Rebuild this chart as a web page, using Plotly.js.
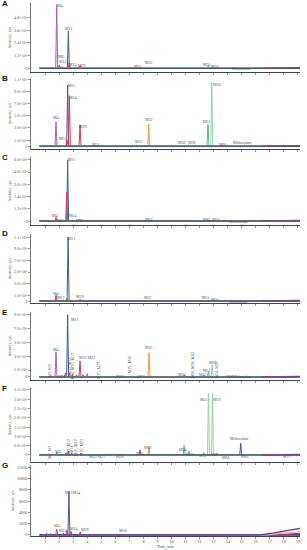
<!DOCTYPE html>
<html><head><meta charset="utf-8">
<script src="https://cdn.plot.ly/plotly-3.0.1.min.js"></script>
<style>html,body{margin:0;padding:0;background:#fff;}#chart{width:307px;height:550px;}</style>
</head><body><div id="chart"></div>
<script>
// ---------- shared ----------
const timeTicks = [1,2,3,4,5,6,7,8,9,10,11,12,13,14,15,16,17,18,19];
const panelLetters = ['A','B','C','D','E','F','G'];

// ---------- Panel A ----------
const A_time   = [1.83, 2.02, 2.20, 2.66, 2.72, 3.50, 7.76, 8.40, 12.63, 12.90];
const A_height = [6.0e5, 0.3e5, 0.15e5, 3.5e5, 0.5e5, 0.25e5, 0.1e5, 0.15e5, 0.3e5, 0.15e5];
const A_chan   = ['c1','c7','c3','c2','c3','c3','c7','c4','c5','c6'];
const A_labels = ['M4','M11','M8','M12','M14','M29','M31','M32','M51','M56','Midazolam'];
const A_labelTime  = [2.09, 2.66, 2.10, 2.28, 2.99, 3.63, 7.62, 8.43, 12.51, 13.10, 15.00];
const A_labelValue = [5.9e5, 3.8e5, 1.12e5, 0.66e5, 0.4e5, 0.31e5, 0.15e5, 0.57e5, 0.4e5, 0.19e5, -0.02e5];
const A_driftTime  = [16.5, 19.15];
const A_driftValue = [0, 0.05e5];
const A_yTicks = [0, 1.2e5, 2.4e5, 3.6e5, 4.8e5];
const A_yText  = ['0','1.2×10⁵','2.4×10⁵','3.6×10⁵','4.8×10⁵'];

// ---------- Panel B ----------
const B_time   = [1.78, 2.55, 2.61, 2.73, 3.49, 4.80, 7.76, 8.38, 10.90, 11.30, 12.60, 12.87, 13.46, 14.90];
const B_height = [4.0e5, 1.0e5, 10.0e5, 8.3e5, 3.5e5, 0.15e5, 0.2e5, 3.6e5, 0.15e5, 0.1e5, 3.6e5, 10.4e5, 0.1e5, 0.15e5];
const B_chan   = ['c1','c3','c2','c3','c3','c7','c7','c4','c5','c5','c5','c6','c7','c7'];
const B_labels = ['M4','M12','M11','M14','M29','M25','M31','M32','M36','M38','M51','M56','M60','Midazolam'];
const B_labelTime  = [1.78, 2.26, 2.90, 3.01, 3.68, 4.63, 7.71, 8.43, 10.78, 11.49, 12.51, 13.23, 13.70, 15.08];
const B_labelValue = [4.7e5, 1.2e5, 9.9e5, 8.0e5, 3.3e5, 0.36e5, 0.74e5, 4.4e5, 0.57e5, 0.57e5, 4.1e5, 10.2e5, 0.3e5, 0.57e5];
const B_driftTime  = [16.5, 19.15];
const B_driftValue = [0, 0.08e5];
const B_yTicks = [0, 1e5, 3e5, 5e5, 7e5, 9e5, 11e5];
const B_yText  = ['0','1.0×10⁵','3.0×10⁵','5.0×10⁵','7.0×10⁵','9.0×10⁵','1.1×10⁶'];

// ---------- Panel C ----------
const C_time   = [1.78, 2.20, 2.54, 2.61, 3.49, 8.40, 12.58, 12.80];
const C_height = [0.35e5, 0.1e5, 2.8e5, 6.0e5, 0.15e5, 0.15e5, 0.15e5, 0.1e5];
const C_chan   = ['c3','c3','c3','c2','c3','c4','c5','c5'];
const C_labels = ['M4','M12','M11','M14','M29','M32','M51','M56','Midazolam'];
const C_labelTime  = [1.71, 2.14, 2.90, 3.01, 3.49, 8.43, 12.51, 13.18, 14.76];
const C_labelValue = [0.5e5, 0.08e5, 6.0e5, 0.5e5, 0.05e5, 0.17e5, 0.17e5, 0.17e5, -0.02e5];
const C_driftTime  = [16.5, 19.15];
const C_driftValue = [0, 0.06e5];
const C_yTicks = [0, 1.2e5, 2.4e5, 3.6e5, 4.8e5, 6.0e5];
const C_yText  = ['0','1.2×10⁵','2.4×10⁵','3.6×10⁵','4.8×10⁵','6.0×10⁵'];

// ---------- Panel D ----------
const D_time   = [1.78, 2.30, 2.55, 2.64, 3.49, 8.40, 12.60, 12.90];
const D_height = [1.0e5, 0.2e5, 0.4e5, 11.0e5, 0.3e5, 0.2e5, 0.2e5, 0.15e5];
const D_chan   = ['c3','c3','c3','c2','c3','c4','c5','c5'];
const D_labels = ['M4','M12','M11','M29','M32','M51','M56','Midazolam'];
const D_labelTime  = [1.78, 2.12, 2.90, 3.49, 8.31, 12.46, 13.10, 14.76];
const D_labelValue = [1.33e5, 0.57e5, 10.8e5, 0.81e5, 0.64e5, 0.64e5, 0.34e5, -0.02e5];
const D_driftTime  = [16.5, 19.15];
const D_driftValue = [0, 0.1e5];
const D_yTicks = [0, 1e5, 3e5, 5e5, 7e5, 9e5, 11e5];
const D_yText  = ['0','1.0×10⁵','3.0×10⁵','5.0×10⁵','7.0×10⁵','9.0×10⁵','1.1×10⁶'];

// ---------- Panel E ----------
const E_time   = [1.45, 1.78, 2.19, 2.45, 2.61, 2.75, 2.95, 3.25, 3.49, 3.70, 4.01, 4.80, 6.34, 7.05, 7.76, 8.40, 10.90, 11.50, 12.30, 12.63, 12.90, 13.27, 14.17, 14.90];
const E_height = [0.15e5, 3.6e5, 0.2e5, 0.6e5, 8.9e5, 0.5e5, 0.4e5, 0.3e5, 2.3e5, 0.3e5, 0.45e5, 0.1e5, 0.05e5, 0.1e5, 0.1e5, 3.5e5, 0.3e5, 0.2e5, 0.3e5, 0.8e5, 1.75e5, 0.2e5, 0.05e5, 0.1e5];
const E_chan   = ['c1','c1','c3','c3','c2','c3','c3','c3','c3','c3','c3','c7','c7','c7','c7','c4','c5','c5','c5','c5','c6','c5','c7','c7'];
const E_labels = ['M4','M11','M19 M23','M32','M56','M51','M52','M34','M10','M28','M31','M60','Midazolam'];
const E_labelTime  = [1.78, 3.13, 3.97, 8.43, 12.98, 12.56, 12.23, 10.73, 2.19, 6.34, 7.88, 14.15, 15.03];
const E_labelValue = [3.96e5, 8.2e5, 2.8e5, 4.2e5, 2.1e5, 1.0e5, 0.29e5, 0.29e5, 0.02e5, 0.0, 0.05e5, 0.05e5, 0.02e5];
const E_vLabels = ['M2, M3','M12, M13','M14, M16, M17','M25, M27','M29, M30','M36, M38, M42','M54, M55'];
const E_vLabelTime  = [1.35, 2.71, 2.92, 4.79, 7.05, 11.52, 13.27];
const E_vLabelValue = [0.95e5, 1.5e5, 1.5e5, 0.9e5, 1.7e5, 1.75e5, 1.0e5];
const E_driftTime  = [16.5, 19.15];
const E_driftValue = [0, 0.06e5];
const E_yTicks = [0, 1e5, 3e5, 5e5, 7e5, 9e5];
const E_yText  = ['0','1.0×10⁵','3.0×10⁵','5.0×10⁵','7.0×10⁵','9.0×10⁵'];

// ---------- Panel F ----------
const F_time   = [1.35, 1.83, 2.50, 2.66, 2.90, 3.20, 3.55, 4.70, 6.34, 7.76, 8.40, 10.90, 11.25, 12.30, 12.63, 12.92, 13.20, 13.70, 14.93, 15.20, 18.20];
const F_height = [0.05e6, 0.15e6, 0.12e6, 0.2e6, 0.1e6, 0.08e6, 0.1e6, 0.03e6, 0.03e6, 0.27e6, 0.45e6, 0.5e6, 0.2e6, 0.12e6, 3.3e6, 3.3e6, 0.1e6, 0.03e6, 0.63e6, 0.03e6, 0.03e6];
const F_chan   = ['c1','c1','c3','c3','c3','c3','c3','c7','c7','c3','c4','c5','c5','c5','c6','c6','c5','c7','c2','c7','c7'];
const F_labels = ['M51','M56','Midazolam','M32','M31','M34','M36','M52','M55','M60','M66','M71','M4','M25 M27','M28'];
const F_labelTime  = [12.32, 13.27, 14.84, 8.35, 7.76, 10.80, 11.32, 12.22, 13.12, 13.90, 15.24, 18.21, 1.92, 4.68, 6.34];
const F_labelValue = [2.96e6, 2.96e6, 0.9e6, 0.39e6, 0.09e6, 0.27e6, 0.05e6, -0.05e6, 0.02e6, -0.12e6, -0.1e6, -0.1e6, 0.18e6, -0.1e6, -0.08e6];
const F_vLabels = ['M2, M3','M11, M12','M14','M16, M17','M19, M23'];
const F_vLabelTime  = [1.35, 2.66, 2.90, 3.20, 3.60];
const F_vLabelValue = [0.15e6, 0.4e6, 0.3e6, 0.4e6, 0.4e6];
const F_driftTime  = [16.5, 19.15];
const F_driftValue = [0, 0.03e6];
const F_yTicks = [0, 0.5e6, 1.0e6, 1.5e6, 2.0e6, 2.5e6, 3.0e6, 3.5e6];
const F_yText  = ['0','5.0×10⁵','1.0×10⁶','1.5×10⁶','2.0×10⁶','2.5×10⁶','3.0×10⁶','3.5×10⁶'];

// ---------- Panel G ----------
const G_time   = [1.10, 1.40, 1.83, 2.30, 2.55, 2.70, 2.85, 3.50, 6.50];
const G_height = [300, 250, 1000, 300, 800, 7700, 600, 500, 100];
const G_chan   = ['c3','c3','c3','c3','c3','c2','c3','c3','c7'];
const G_labels = ['M11M14','M4','M12','M14','M29','M28'];
const G_labelTime  = [2.97, 1.83, 2.30, 3.06, 3.85, 6.57];
const G_labelValue = [7600, 1750, 750, 1220, 925, 750];
const G_drift1Time  = [0.8, 16.3, 17.3, 18.3, 19.15];
const G_drift1Value = [0, 0, 350, 850, 1150];
const G_drift2Time  = [0.8, 16.8, 18.0, 19.15];
const G_drift2Value = [0, 0, 300, 550];
const G_drift3Time  = [0.8, 17.5, 19.15];
const G_drift3Value = [0, 0, 250];
const G_yTicks = [0, 2000, 4000, 6000, 8000, 10000, 12000];
const G_yText  = ['0','2000','4000','6000','8000','10000','12000'];

// ---------- layout geometry (pixels) ----------
const PLOT_TOP = 2, PLOT_BOTTOM = 536, PLOT_H = PLOT_BOTTOM - PLOT_TOP;
const panelTopPx    = [3, 78, 157, 234, 312, 388, 465];
const panelBottomPx = [72, 149, 225, 303, 380, 462, 536];
const yRanges = [[-0.35e5, 6.16e5],[-0.46e5, 11.2e5],[-0.39e5, 6.27e5],[-0.34e5, 11.55e5],[-0.43e5, 9.3e5],[-0.38e6, 3.6e6],[-200, 12400]];
const X_MIN = 0, X_MAX = 19.15, X0 = 0.6;
const W = 0.07;

const chanColor = {c1:'#b05caf', c2:'#4456a8', c3:'#d8365a', c4:'#f29a38', c5:'#5cbd82', c6:'#8fd8aa', c7:'#4a4f9a'};
const chanOrder = ['c7','c1','c2','c3','c4','c5','c6'];
const NAVY = '#2e3584';
const FONT = 'Liberation Serif, serif';

const panels = [
  {t:A_time,h:A_height,c:A_chan,l:A_labels,lt:A_labelTime,lv:A_labelValue,dt:A_driftTime,dv:A_driftValue,yt:A_yTicks,yx:A_yText},
  {t:B_time,h:B_height,c:B_chan,l:B_labels,lt:B_labelTime,lv:B_labelValue,dt:B_driftTime,dv:B_driftValue,yt:B_yTicks,yx:B_yText},
  {t:C_time,h:C_height,c:C_chan,l:C_labels,lt:C_labelTime,lv:C_labelValue,dt:C_driftTime,dv:C_driftValue,yt:C_yTicks,yx:C_yText},
  {t:D_time,h:D_height,c:D_chan,l:D_labels,lt:D_labelTime,lv:D_labelValue,dt:D_driftTime,dv:D_driftValue,yt:D_yTicks,yx:D_yText},
  {t:E_time,h:E_height,c:E_chan,l:E_labels,lt:E_labelTime,lv:E_labelValue,dt:E_driftTime,dv:E_driftValue,yt:E_yTicks,yx:E_yText,vl:E_vLabels,vt:E_vLabelTime,vv:E_vLabelValue},
  {t:F_time,h:F_height,c:F_chan,l:F_labels,lt:F_labelTime,lv:F_labelValue,dt:F_driftTime,dv:F_driftValue,yt:F_yTicks,yx:F_yText,vl:F_vLabels,vt:F_vLabelTime,vv:F_vLabelValue},
  {t:G_time,h:G_height,c:G_chan,l:G_labels,lt:G_labelTime,lv:G_labelValue,yt:G_yTicks,yx:G_yText}
];

const traces = [], annotations = [];
const layout = {
  width:307, height:550, margin:{l:31, r:7, t:PLOT_TOP, b:550-PLOT_BOTTOM},
  paper_bgcolor:'#fff', plot_bgcolor:'#fff', showlegend:false,
  font:{family:FONT, color:'#555', size:4}
};

panels.forEach((p, i) => {
  const n = i + 1;
  const xa = n === 1 ? 'x' : 'x' + n, ya = n === 1 ? 'y' : 'y' + n;
  chanOrder.forEach(ch => {
    const idx = p.t.map((_, k) => k).filter(k => p.c[k] === ch).sort((a, b) => p.t[a] - p.t[b]);
    if (!idx.length) return;
    const xs = [X0], ys = [0];
    idx.forEach(k => { xs.push(p.t[k] - W, p.t[k], p.t[k] + W); ys.push(0, p.h[k], 0); });
    xs.push(X_MAX); ys.push(0);
    traces.push({x:xs, y:ys, xaxis:xa, yaxis:ya, type:'scatter', mode:'lines',
      line:{color:chanColor[ch], width:1}, hoverinfo:'skip'});
  });
  traces.push({x:[X0, X_MAX], y:[0, 0], xaxis:xa, yaxis:ya, type:'scatter', mode:'lines',
    line:{color:NAVY, width:1}, hoverinfo:'skip'});
  if (p.dt) traces.push({x:p.dt, y:p.dv, xaxis:xa, yaxis:ya, type:'scatter', mode:'lines',
    line:{color:'#6a4a9a', width:1.5}, hoverinfo:'skip'});
  if (n === 7) {
    traces.push({x:G_drift3Time, y:G_drift3Value, xaxis:xa, yaxis:ya, type:'scatter', mode:'lines', line:{color:'#c0304a', width:1.2}, hoverinfo:'skip'});
    traces.push({x:G_drift2Time, y:G_drift2Value, xaxis:xa, yaxis:ya, type:'scatter', mode:'lines', line:{color:'#e8a8c0', width:1.2}, hoverinfo:'skip'});
    traces.push({x:G_drift1Time, y:G_drift1Value, xaxis:xa, yaxis:ya, type:'scatter', mode:'lines', line:{color:'#4b3b8f', width:1.2}, hoverinfo:'skip'});
  }
  p.l.forEach((txt, k) => annotations.push({x:p.lt[k], y:p.lv[k], xref:xa, yref:ya, text:txt, showarrow:false,
    font:{size:4, color:'#555', family:FONT}, xanchor:'center', yanchor:'middle'}));
  if (p.vl) p.vl.forEach((txt, k) => annotations.push({x:p.vt[k], y:p.vv[k], xref:xa, yref:ya, text:txt, showarrow:false,
    textangle:-90, font:{size:4, color:'#555', family:FONT}, xanchor:'center', yanchor:'middle'}));
  const dTop = (PLOT_BOTTOM - panelTopPx[i]) / PLOT_H, dBot = (PLOT_BOTTOM - panelBottomPx[i]) / PLOT_H;
  annotations.push({x:-0.115, y:dTop, xref:'paper', yref:'paper', text:'<b>' + panelLetters[i] + '</b>', showarrow:false,
    font:{size:8, color:'#111', family:'Liberation Sans, Arial'}, xanchor:'left', yanchor:'middle'});
  layout[n === 1 ? 'xaxis' : 'xaxis' + n] = {
    domain:[0, 1], anchor:ya, range:[X_MIN, X_MAX], showgrid:false, zeroline:false,
    showline:true, linecolor:'#3a3f7a', linewidth:1, ticks:'outside', ticklen:1.5, tickwidth:0.6, tickcolor:'#555',
    tickvals:timeTicks, ticktext:timeTicks.map(String), showticklabels:n === 7,
    tickfont:{size:4, color:'#444', family:FONT}
  };
  layout[n === 1 ? 'yaxis' : 'yaxis' + n] = {
    domain:[Math.max(0, dBot), Math.min(1, dTop)], anchor:xa, range:yRanges[i], showgrid:false, zeroline:false,
    showline:true, linecolor:'#555', linewidth:0.8, ticks:'outside', ticklen:2, tickwidth:0.6, tickcolor:'#555',
    tickvals:p.yt, ticktext:p.yx, tickfont:{size:4.2, color:'#555', family:FONT},
    title:{text:'Intensity, cps', font:{size:4, color:'#555', family:FONT}, standoff:2}
  };
});
// x-axis title for the bottom panel, placed under the tick labels
annotations.push({x:0.5, y:-(547 - PLOT_BOTTOM) / PLOT_H, xref:'paper', yref:'paper', text:'Time, min', showarrow:false,
  font:{size:4, color:'#444', family:FONT}, xanchor:'center', yanchor:'middle', borderpad:0});
layout.annotations = annotations;

Plotly.newPlot('chart', traces, layout, {staticPlot:true, displayModeBar:false});
</script></body></html>
